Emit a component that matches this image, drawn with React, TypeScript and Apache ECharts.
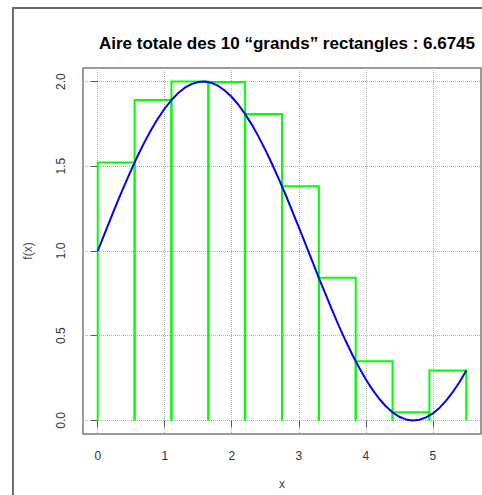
import React, { useEffect, useRef } from "react";
import * as echarts from "echarts";

const titleText = "Aire totale des 10 \u201cgrands\u201d rectangles : 6.6745";
const xTicks = [0, 1, 2, 3, 4, 5];
const yTicks = [0, 0.5, 1, 1.5, 2];

// curve f(x) sampled along x
const curveX = [
  0, 0.1, 0.2, 0.3, 0.4, 0.5, 0.6, 0.7, 0.8, 0.9, 1.0, 1.1, 1.2, 1.3, 1.4, 1.5, 1.6, 1.7, 1.8, 1.9,
  2.0, 2.1, 2.2, 2.3, 2.4, 2.5, 2.6, 2.7, 2.8, 2.9, 3.0, 3.1, 3.2, 3.3, 3.4, 3.5, 3.6, 3.7, 3.8, 3.9,
  4.0, 4.1, 4.2, 4.3, 4.4, 4.5, 4.6, 4.7, 4.8, 4.9, 5.0, 5.1, 5.2, 5.3, 5.4, 5.5,
];
const curveY = [
  1.0, 1.1, 1.199, 1.296, 1.389, 1.479, 1.565, 1.644, 1.717, 1.783, 1.841, 1.891, 1.932, 1.964, 1.985,
  1.997, 2.0, 1.992, 1.974, 1.946, 1.909, 1.863, 1.808, 1.746, 1.675, 1.598, 1.515, 1.427, 1.335,
  1.239, 1.141, 1.042, 0.942, 0.842, 0.745, 0.649, 0.557, 0.47, 0.388, 0.312, 0.243, 0.182, 0.128,
  0.084, 0.048, 0.022, 0.006, 0.0, 0.004, 0.018, 0.041, 0.074, 0.117, 0.168, 0.227, 0.295,
];

// rectangles: left edge, right edge, height
const rectLeft = [0, 0.55, 1.1, 1.65, 2.2, 2.75, 3.3, 3.85, 4.4, 4.95];
const rectRight = [0.55, 1.1, 1.65, 2.2, 2.75, 3.3, 3.85, 4.4, 4.95, 5.5];
const rectHeight = [1.523, 1.891, 2.0, 1.997, 1.808, 1.382, 0.842, 0.349, 0.048, 0.295];

const FONT = "Liberation Sans, Arial, sans-serif";

export default function App() {
  const ref = useRef<HTMLDivElement>(null);
  useEffect(() => {
    if (!ref.current) return;
    const chart = echarts.init(ref.current, null, { renderer: "svg" });
    const curveData = curveX.map((x, i) => [x, curveY[i]]);
    const rectData = rectLeft.map((x, i) => [x, rectRight[i], rectHeight[i]]);
    chart.setOption({
      animation: false,
      backgroundColor: "#ffffff",
      textStyle: { fontFamily: FONT },
      title: {
        text: titleText,
        left: 282,
        top: 30,
        textAlign: "center",
        textStyle: { fontFamily: FONT, fontSize: 17, fontWeight: "bold", color: "#000000" },
      },
      graphic: [
        {
          type: "rect",
          shape: { x: 13, y: 8, width: 700, height: 700 },
          style: { fill: "none", stroke: "#6e6e6e", lineWidth: 2 },
          silent: true,
        },
      ],
      grid: {
        left: 83,
        top: 68,
        width: 398,
        height: 373,
        show: true,
        borderColor: "#7a7a7a",
        borderWidth: 1.5,
        backgroundColor: "transparent",
      },
      xAxis: {
        type: "value",
        min: -0.22,
        max: 5.72,
        name: "x",
        nameLocation: "middle",
        nameGap: 44,
        nameTextStyle: { fontFamily: FONT, fontSize: 12, color: "#444444" },
        axisLine: { show: false },
        axisTick: {
          show: true,
          length: 7,
          customValues: xTicks,
          lineStyle: { color: "#555555", width: 1 },
        },
        axisLabel: {
          customValues: xTicks,
          margin: 16,
          fontFamily: FONT,
          fontSize: 12,
          color: "#333333",
        },
        splitLine: {
          show: true,
          lineStyle: { type: "dotted", color: "#b0b0b0", width: 1 },
        },
      },
      yAxis: {
        type: "value",
        min: -0.08,
        max: 2.08,
        name: "f(x)",
        nameLocation: "middle",
        nameGap: 49,
        nameRotate: 90,
        nameTextStyle: { fontFamily: FONT, fontSize: 12, color: "#444444" },
        axisLine: { show: false },
        axisTick: {
          show: true,
          length: 7,
          customValues: yTicks,
          lineStyle: { color: "#555555", width: 1 },
        },
        axisLabel: {
          customValues: yTicks,
          rotate: 90,
          margin: 16,
          fontFamily: FONT,
          fontSize: 12,
          color: "#333333",
          formatter: (v: number) => v.toFixed(1),
        },
        splitLine: {
          show: true,
          lineStyle: { type: "dotted", color: "#b0b0b0", width: 1 },
        },
      },
      series: [
        {
          type: "custom",
          name: "rectangles",
          data: rectData,
          encode: { x: [0, 1], y: 2 },
          z: 2,
          renderItem: (params: any, api: any) => {
            const x0 = api.value(0);
            const x1 = api.value(1);
            const h = api.value(2);
            const p0 = api.coord([x0, 0]);
            const p1 = api.coord([x0, h]);
            const p2 = api.coord([x1, h]);
            const p3 = api.coord([x1, 0]);
            return {
              type: "polyline",
              shape: { points: [p0, p1, p2, p3] },
              style: { fill: "none", stroke: "#00ff00", lineWidth: 2 },
            };
          },
        },
        {
          type: "line",
          name: "f",
          data: curveData,
          showSymbol: false,
          smooth: false,
          z: 3,
          lineStyle: { color: "#0000ff", width: 2 },
          itemStyle: { color: "#0000ff" },
        },
      ],
    });
    return () => chart.dispose();
  }, []);
  return (
    <div
      ref={ref}
      style={{ position: "fixed", left: 0, top: 0, width: 482, height: 495 }}
    />
  );
}
